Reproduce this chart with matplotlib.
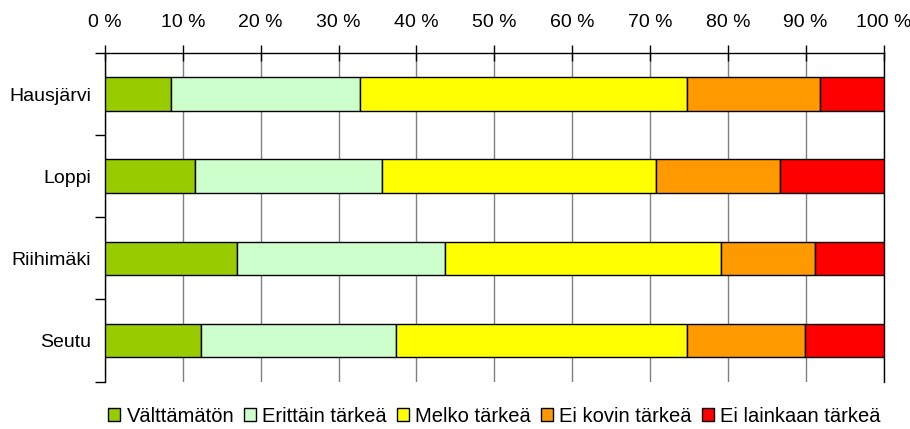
import numpy as np
import matplotlib.pyplot as plt
from matplotlib.ticker import FixedLocator

# ====== DATA ======
areas = ["Hausjärvi", "Loppi", "Riihimäki", "Seutu"]
series = ["Välttämätön", "Erittäin tärkeä", "Melko tärkeä", "Ei kovin tärkeä", "Ei lainkaan tärkeä"]
valttamaton = [8.5, 11.5, 16.9, 12.3]
erittain = [24.3, 24.1, 26.8, 25.1]
melko = [42.0, 35.2, 35.4, 37.4]
ei_kovin = [17.1, 15.9, 12.1, 15.1]
ei_lainkaan = [8.1, 13.3, 8.8, 10.1]
colors = ["#99CC00", "#CCFFCC", "#FFFF00", "#FF9900", "#FF0000"]
# ==================

plt.rcParams['font.family'] = ['Liberation Sans', 'DejaVu Sans']

fig = plt.figure(figsize=(9.1, 4.29), dpi=100)
ax = fig.add_axes([0.1154, 0.1105, 0.8555, 0.766])

y = np.arange(len(areas))
left = np.zeros(len(areas))
for name, vals, c in zip(series, [valttamaton, erittain, melko, ei_kovin, ei_lainkaan], colors):
    ax.barh(y, vals, left=left, height=0.41, color=c, edgecolor="black",
            linewidth=1, label=name, zorder=3)
    left += np.array(vals)

ax.set_xlim(0, 100)
ax.set_ylim(len(areas) - 0.5, -0.5)

# x axis on top
ax.xaxis.set_ticks_position("top")
ax.xaxis.set_label_position("top")
ax.set_xticks(np.arange(0, 101, 10))
ax.set_xticklabels([f"{v} %" for v in range(0, 101, 10)])
ax.tick_params(axis="x", direction="inout", length=12, width=1, pad=9.5, labelsize=14)
ax.grid(axis="x", color="#808080", linewidth=1, zorder=0)

# y axis: labels at centers, ticks at boundaries
ax.set_yticks(y)
ax.set_yticklabels(areas)
ax.tick_params(axis="y", which="major", length=0, pad=10, labelsize=14)
ax.yaxis.set_minor_locator(FixedLocator(np.arange(-0.5, len(areas), 1.0)))
ax.tick_params(axis="y", which="minor", direction="out", length=7, width=1)

ax.spines["bottom"].set_visible(False)
for s in ["top", "left", "right"]:
    ax.spines[s].set_color("black")
    ax.spines[s].set_linewidth(1)

leg = ax.legend(loc="center", bbox_to_anchor=(0.5, -0.105), ncol=5, frameon=False,
                fontsize=14.5, handlelength=0.6, handleheight=0.6,
                handletextpad=0.3, columnspacing=0.5, borderaxespad=0)

fig.savefig("out.png", dpi=100)
